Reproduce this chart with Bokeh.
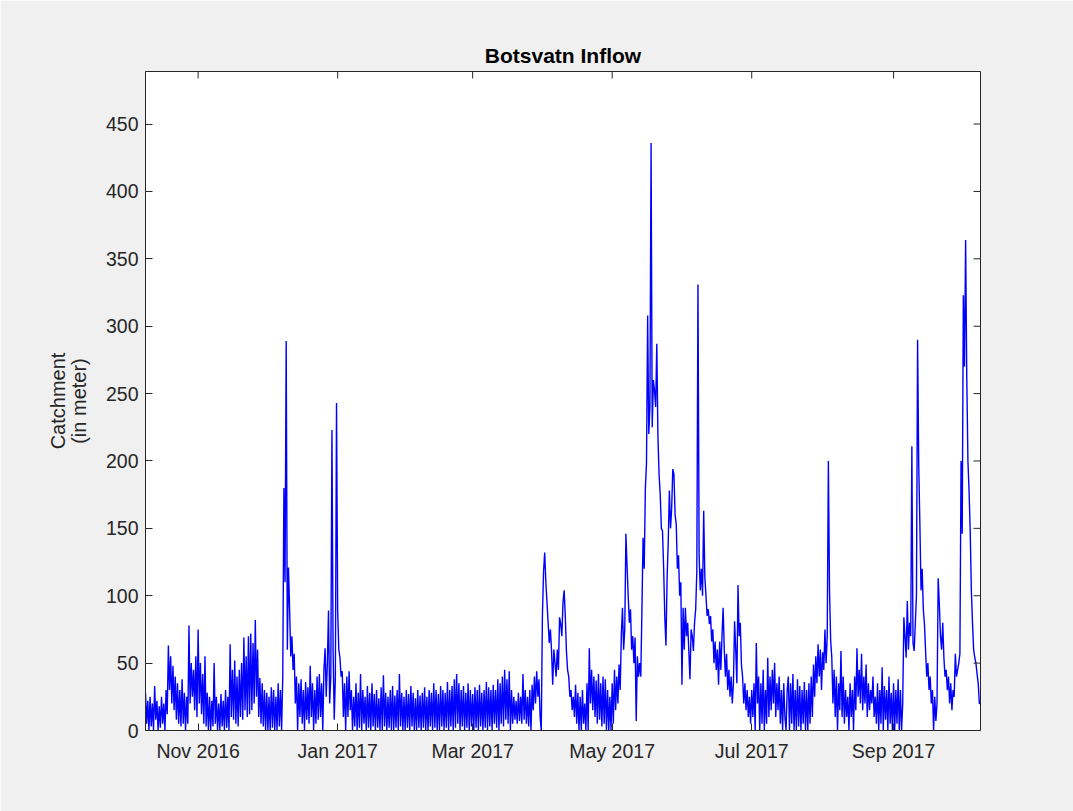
from datetime import datetime, timedelta
from bokeh.plotting import figure
from bokeh.models import (ColumnDataSource, Range1d, FixedTicker, DatetimeTickFormatter)
from bokeh.embed import file_html
from bokeh.resources import INLINE

# ---------------- data ----------------
series_start = datetime(2016, 10, 9)   # first sample
sample_hours = 12                       # spacing of the samples below
x_start = datetime(2016, 10, 9)
x_end = datetime(2017, 10, 9)
y_max = 489
y_ticks = [0, 50, 100, 150, 200, 250, 300, 350, 400, 450]
tick_dates = [datetime(2016, 11, 1), datetime(2017, 1, 1), datetime(2017, 3, 1),
              datetime(2017, 5, 1), datetime(2017, 7, 1), datetime(2017, 9, 1)]
tick_labels = ["Nov 2016", "Jan 2017", "Mar 2017", "May 2017", "Jul 2017", "Sep 2017"]

inflow_oct_2016 = [28, 5, 22, 0, 25, 3, 20, 0, 33, 8, 22, 0, 18, 2, 25, 5, 20, 0, 30, 12,
                   63, 30, 55, 20, 48, 15, 40, 8, 35, 5, 30, 3, 38, 5, 28, 0, 25, 5, 78, 20,
                   50, 25, 45, 15, 55, 10]
inflow_nov_2016 = [75, 20, 50, 12, 42, 5, 55, 3, 28, 0, 25, 0, 22, 3, 50, 5, 25, 0, 20, 0,
                   27, 3, 22, 0, 30, 2, 25, 0, 64, 10, 45, 8, 52, 5, 40, 3, 45, 10, 50, 8,
                   69, 15, 55, 10, 70, 12, 72, 15, 65, 20, 82, 25, 60, 10, 39, 5, 35, 3, 30, 0]
inflow_dec_2016 = [28, 0, 25, 0, 32, 2, 30, 0, 25, 0, 35, 3, 30, 0, 40, 180, 110, 289, 60, 121,
                   90, 55, 70, 45, 57, 20, 40, 0, 35, 10, 38, 5, 30, 0, 36, 8, 32, 5, 48, 10,
                   35, 0, 30, 5, 40, 8, 42, 10, 35, 0, 45, 61, 25, 50, 89, 20, 40, 223, 60, 8,
                   40, 243]
inflow_jan_2017 = [89, 60, 54, 40, 44, 10, 35, 0, 40, 10, 44, 15, 30, 0, 25, 3, 35, 0, 28, 2,
                   42, 0, 30, 5, 25, 0, 33, 2, 28, 0, 35, 3, 27, 0, 30, 2, 24, 0, 32, 0,
                   41, 3, 28, 0, 25, 2, 30, 0, 33, 0, 26, 2, 30, 0, 42, 3, 28, 0, 25, 0,
                   30, 2]
inflow_feb_2017 = [27, 0, 33, 3, 28, 0, 24, 0, 30, 2, 26, 0, 28, 2, 32, 0, 25, 0, 30, 3,
                   28, 0, 35, 2, 30, 0, 27, 0, 33, 3, 30, 0, 28, 2, 36, 0, 30, 3, 33, 0,
                   38, 2, 42, 5, 35, 0, 30, 3, 33, 0, 28, 2, 35, 0, 30, 3]
inflow_mar_2017 = [27, 0, 32, 2, 30, 0, 34, 3, 28, 0, 30, 2, 36, 0, 32, 3, 30, 0, 34, 5,
                   30, 2, 38, 0, 35, 5, 40, 3, 45, 8, 38, 5, 44, 0, 30, 5, 25, 8, 22, 5,
                   28, 7, 25, 5, 42, 8, 30, 5, 25, 3, 30, 0, 34, 15, 40, 20, 44, 25, 38, 10,
                   0, 85]
inflow_apr_2017 = [118, 132, 110, 95, 80, 65, 75, 59, 34, 60, 50, 40, 60, 45, 84, 79, 70, 95, 104, 85,
                   59, 45, 40, 25, 30, 15, 25, 10, 34, 5, 28, 0, 25, 0, 30, 5, 20, 0, 35, 0,
                   61, 20, 45, 15, 40, 10, 37, 5, 42, 8, 35, 3, 40, 5, 38, 0, 30, 0, 25, 0]
inflow_may_2017 = [35, 5, 45, 15, 40, 20, 49, 30, 71, 91, 60, 75, 146, 122, 100, 80, 90, 60, 70, 50,
                   69, 7, 55, 40, 50, 40, 89, 143, 120, 180, 198, 308, 220, 240, 436, 225, 260, 252, 240, 287,
                   218, 190, 175, 150, 148, 120, 84, 63, 113, 140, 178, 150, 165, 194, 190, 160, 153, 120, 130, 100,
                   110, 34]
inflow_jun_2017 = [91, 60, 91, 70, 80, 59, 38, 75, 70, 59, 80, 90, 118, 331, 130, 104, 120, 100, 163, 114,
                   100, 85, 90, 79, 85, 66, 75, 50, 66, 45, 60, 34, 66, 45, 70, 91, 60, 40, 57, 30,
                   45, 25, 40, 20, 35, 81, 60, 35, 108, 70, 80, 49, 40, 20, 35, 15, 30, 10, 25, 5]
inflow_jul_2017 = [30, 10, 35, 0, 65, 20, 40, 0, 35, 5, 45, 0, 30, 5, 54, 10, 40, 15, 45, 20,
                   50, 10, 35, 15, 40, 5, 30, 0, 35, 10, 0, 30, 40, 0, 35, 5, 42, 0, 30, 0,
                   38, 3, 33, 0, 30, 5, 36, 0, 30, 0, 35, 5, 40, 10, 49, 25, 55, 35, 64, 40,
                   60, 30]
inflow_aug_2017 = [58, 45, 75, 50, 70, 200, 104, 67, 54, 20, 45, 10, 40, 0, 35, 15, 59, 10, 40, 5,
                   30, 10, 25, 0, 35, 10, 30, 0, 40, 15, 61, 25, 45, 20, 57, 15, 40, 20, 49, 10,
                   35, 15, 30, 20, 40, 10, 25, 5, 35, 0, 30, 5, 47, 0, 33, 8, 30, 0, 40, 5,
                   28, 0]
inflow_sep_2017 = [35, 0, 30, 5, 38, 0, 30, 0, 20, 84, 70, 54, 96, 60, 80, 70, 211, 65, 59, 79,
                   100, 290, 197, 153, 104, 120, 90, 79, 59, 40, 50, 30, 40, 20, 30, 0, 25, 7, 20, 113,
                   94, 70, 60, 80, 54, 40, 45, 30, 40, 20, 35, 15, 30, 25, 57, 40, 45, 50, 57, 200]
inflow_oct_2017 = [146, 323, 270, 364, 262, 200, 178, 148, 104, 80, 60, 54, 50, 42, 35, 20, 20]

inflow = (inflow_oct_2016 + inflow_nov_2016 + inflow_dec_2016 + inflow_jan_2017 +
          inflow_feb_2017 + inflow_mar_2017 + inflow_apr_2017 + inflow_may_2017 +
          inflow_jun_2017 + inflow_jul_2017 + inflow_aug_2017 + inflow_sep_2017 +
          inflow_oct_2017)
times = [series_start + timedelta(hours=sample_hours * i) for i in range(len(inflow))]

# ---------------- layout / styling ----------------
FONT = "Liberation Sans"
TXT = "#262626"
AX = "#262626"
EPOCH = datetime(1970, 1, 1)
W, H = 1073, 811
B_LEFT, B_RIGHT, B_TOP, B_BOTTOM = 145, 93, 71, 81
FRAME_W = W - B_LEFT - B_RIGHT
FRAME_H = H - B_TOP - B_BOTTOM
TICK_LEN = 7


def ms(d):
    return (d - EPOCH).total_seconds() * 1000.0


tick_ms = [ms(d) for d in tick_dates]
label_map = {t: lab for t, lab in zip(tick_ms, tick_labels)}
x0, x1 = ms(x_start), ms(x_end)

src = ColumnDataSource(dict(t=times, q=inflow))

p = figure(width=W, height=H, output_backend="svg", toolbar_location=None,
           x_axis_type="datetime",
           x_range=Range1d(x0, x1), y_range=Range1d(0, y_max),
           min_border_left=B_LEFT, min_border_right=B_RIGHT,
           min_border_top=B_TOP, min_border_bottom=B_BOTTOM,
           title="Botsvatn Inflow")

p.background_fill_color = "white"
p.border_fill_color = "#f0f0f0"
p.outline_line_color = AX
p.xgrid.visible = False
p.ygrid.visible = False

p.title.align = "center"
p.title.text_font = FONT
p.title.text_font_size = "21px"
p.title.text_font_style = "bold"
p.title.text_color = "#000000"

p.line("t", "q", source=src, line_color="#0000ff", line_width=1.4)


def style(ax):
    ax.axis_line_color = AX
    ax.major_tick_line_color = AX
    ax.major_tick_in = TICK_LEN
    ax.major_tick_out = 0
    ax.minor_tick_line_color = None
    ax.major_label_text_font = FONT
    ax.major_label_text_color = TXT
    ax.major_label_text_font_size = "19.5px"


xa = p.xaxis[0]
xa.ticker = FixedTicker(ticks=tick_ms)
xa.formatter = DatetimeTickFormatter(days="%b %Y", months="%b %Y", years="%b %Y")
xa.major_label_overrides = label_map
style(xa)
xa.major_label_standoff = 9

ya = p.yaxis[0]
ya.ticker = FixedTicker(ticks=y_ticks)
style(ya)
ya.major_label_standoff = 7
ya.axis_label = "Catchment\n(in meter)"
ya.axis_label_text_font = FONT
ya.axis_label_text_font_size = "20px"
ya.axis_label_text_font_style = "normal"
ya.axis_label_text_color = TXT
ya.axis_label_text_line_height = 0.95
ya.axis_label_standoff = 13

# mirrored (box) ticks on the top and right edges, pointing inward
dy = TICK_LEN * y_max / FRAME_H
dx = TICK_LEN * (x1 - x0) / FRAME_W
p.segment(x0=tick_ms, y0=[y_max] * len(tick_ms), x1=tick_ms, y1=[y_max - dy] * len(tick_ms),
          line_color=AX, line_width=1)
p.segment(x0=[x1] * len(y_ticks), y0=y_ticks, x1=[x1 - dx] * len(y_ticks), y1=y_ticks,
          line_color=AX, line_width=1)

open("out.html", "w").write(file_html(p, INLINE))
